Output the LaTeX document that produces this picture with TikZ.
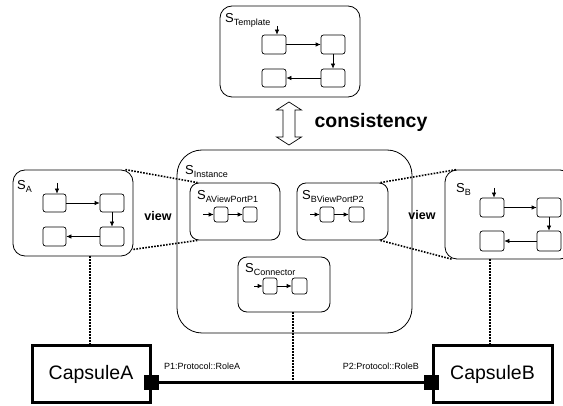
\documentclass[tikz,border=0pt]{standalone}
\usepackage{fontspec}
\setmainfont{Liberation Sans}
\usetikzlibrary{arrows.meta}
\newcommand\slab[1]{\fontsize{13}{13}\selectfont S\raisebox{-2.5pt}{\fontsize{9}{9}\selectfont #1}}
\begin{document}
\begin{tikzpicture}[x=1pt,y=-1pt,
  statebox/.style={draw, line width=0.8pt, rounded corners=12pt, inner sep=0pt},
  vpbox/.style={draw, line width=0.8pt, rounded corners=9pt, inner sep=0pt},
  sm/.style={draw, line width=0.7pt, rounded corners=2.5pt, inner sep=0pt},
  capsule/.style={draw, line width=3pt, inner sep=0pt, font=\fontsize{19.5}{19.5}\selectfont},
  port/.style={fill=black, inner sep=0pt, minimum width=15pt, minimum height=15pt},
  arr/.style={line width=0.7pt, -{Latex[length=5pt,width=4.5pt]}},
  dots/.style={line width=1.6pt, dash pattern=on 1.6pt off 1.4pt},
  lab/.style={anchor=base west, inner sep=0pt},
  viewtxt/.style={font=\fontsize{12.5}{12.5}\selectfont\bfseries, inner sep=0pt},
  roletxt/.style={font=\fontsize{9}{9}\selectfont, inner sep=0pt}]
\useasboundingbox (0,0) rectangle (563,406);

% ---- S_Template
\node[statebox, minimum width=140pt, minimum height=91pt] (st) at (290,51.5) {};
\node[lab] (lt) at (225,23) {\slab{Template}};
\node[sm, minimum width=24pt, minimum height=19pt] (t1) at (274,44.5) {};
\node[sm, minimum width=24pt, minimum height=19pt] (t2) at (333,44.5) {};
\node[sm, minimum width=24pt, minimum height=18pt] (t3) at (274,78) {};
\node[sm, minimum width=24pt, minimum height=18pt] (t4) at (333,78) {};
\coordinate (tin) at (277,26);
\draw[arr] (tin) -- (tin |- t1.north);
\draw[arr] (t1.east) -- (t2.west);
\draw[arr] (t2.south) -- (t4.north);
\draw[arr] (t4.west) -- (t3.east);

% ---- consistency double arrow
\draw[line width=0.7pt, fill=white] (289,102) -- (301.5,110) -- (295,110) -- (295,137) -- (301.5,137)
  -- (289,145) -- (276.5,137) -- (283,137) -- (283,110) -- (276.5,110) -- cycle;
\node[font=\fontsize{19.5}{19.5}\selectfont\bfseries, inner sep=0pt] (cons) at (371,122) {consistency};

% ---- S_A
\node[statebox, minimum width=120pt, minimum height=86pt] (sa) at (73,213) {};
\node[lab] (la) at (17,190) {\slab{A}};
\node[sm, minimum width=23pt, minimum height=18pt] (a1) at (54.5,203) {};
\node[sm, minimum width=24pt, minimum height=18pt] (a2) at (112,203) {};
\node[sm, minimum width=23pt, minimum height=19pt] (a3) at (54.5,236.5) {};
\node[sm, minimum width=24pt, minimum height=19pt] (a4) at (112,236.5) {};
\coordinate (ain) at (57,183);
\draw[arr] (ain) -- (ain |- a1.north);
\draw[arr] (a1.east) -- (a2.west);
\draw[arr] (a2.south) -- (a4.north);
\draw[arr] (a4.west) -- (a3.east);
\node[viewtxt] (va) at (158,216) {view};

% ---- S_B
\node[statebox, minimum width=127pt, minimum height=89pt] (sb) at (508.5,214.5) {};
\node[lab] (lb) at (456,193) {\slab{B}};
\node[sm, minimum width=24pt, minimum height=19pt] (b1) at (492,207.5) {};
\node[sm, minimum width=24pt, minimum height=19pt] (b2) at (549,207.5) {};
\node[sm, minimum width=24pt, minimum height=20pt] (b3) at (492,241) {};
\node[sm, minimum width=24pt, minimum height=20pt] (b4) at (549,241) {};
\coordinate (bin) at (494,188);
\draw[arr] (bin) -- (bin |- b1.north);
\draw[arr] (b1.east) -- (b2.west);
\draw[arr] (b2.south) -- (b4.north);
\draw[arr] (b4.west) -- (b3.east);
\node[viewtxt] (vb) at (422,215) {view};

% ---- S_Instance
\node[draw, line width=0.8pt, rounded corners=25pt, inner sep=0pt, minimum width=235pt, minimum height=183pt] (si) at (294.5,241.5) {};
\node[lab] (li) at (185,175) {\slab{Instance}};
% viewport A
\node[vpbox, minimum width=90pt, minimum height=57pt] (vpa) at (235,211.5) {};
\node[lab] (lva) at (197,200) {\slab{AViewPortP1}};
\node[sm, minimum width=14pt, minimum height=15pt] (pa1) at (221,214.5) {};
\node[sm, minimum width=14pt, minimum height=15pt] (pa2) at (250,214.5) {};
\coordinate (pain) at (203,214.5);
\draw[arr] (pain) -- (pa1.west);
\draw[arr] (pa1.east) -- (pa2.west);
% viewport B
\node[vpbox, minimum width=91pt, minimum height=57pt] (vpb) at (342.5,211.5) {};
\node[lab] (lvb) at (302,200) {\slab{BViewPortP2}};
\node[sm, minimum width=14pt, minimum height=15pt] (pb1) at (327,214.5) {};
\node[sm, minimum width=15pt, minimum height=15pt] (pb2) at (356.5,214.5) {};
\coordinate (pbin) at (310,214.5);
\draw[arr] (pbin) -- (pb1.west);
\draw[arr] (pb1.east) -- (pb2.west);
% connector
\node[vpbox, minimum width=92pt, minimum height=55pt] (sc) at (284,284.5) {};
\node[lab] (lc) at (245,273) {\slab{Connector}};
\node[sm, minimum width=14pt, minimum height=16pt] (c1) at (270,286) {};
\node[sm, minimum width=15pt, minimum height=16pt] (c2) at (299.5,286) {};
\coordinate (cin) at (254,286);
\draw[arr] (cin) -- (c1.west);
\draw[arr] (c1.east) -- (c2.west);

% ---- Capsules
\node[capsule, minimum width=118pt, minimum height=57pt] (ca) at (91,374.5) {CapsuleA};
\node[capsule, minimum width=119pt, minimum height=57pt] (cb) at (492.5,374.5) {CapsuleB};
\node[port] (pta) at (151.5,382.5) {};
\node[port] (ptb) at (431.5,382.5) {};
\draw[line width=2.2pt] (pta.east) -- (ptb.west);
\node[roletxt, anchor=west] (r1) at (164,366) {P1:Protocol::RoleA};
\node[roletxt, anchor=east] (r2) at (419,366) {P2:Protocol::RoleB};

% ---- dotted links
\draw[dots] ([xshift=-8pt]sa.north east) -- ([xshift=8pt]vpa.north west);
\draw[dots] ([yshift=7pt]sa.south east) -- ([xshift=8pt]vpa.south west);
\draw[dots] ([xshift=-8pt]vpb.north east) -- ([xshift=12pt]sb.north west);
\draw[dots] ([xshift=-8pt]vpb.south east) -- ([xshift=8pt]sb.south west);
\coordinate (da) at (90,256);
\draw[dots] (da) -- (da |- ca.north);
\coordinate (db) at (490,259);
\draw[dots] (db) -- (db |- cb.north);
\coordinate (dc) at (293,312);
\draw[dots] (dc) -- (dc |- pta.east);
\end{tikzpicture}
\end{document}
